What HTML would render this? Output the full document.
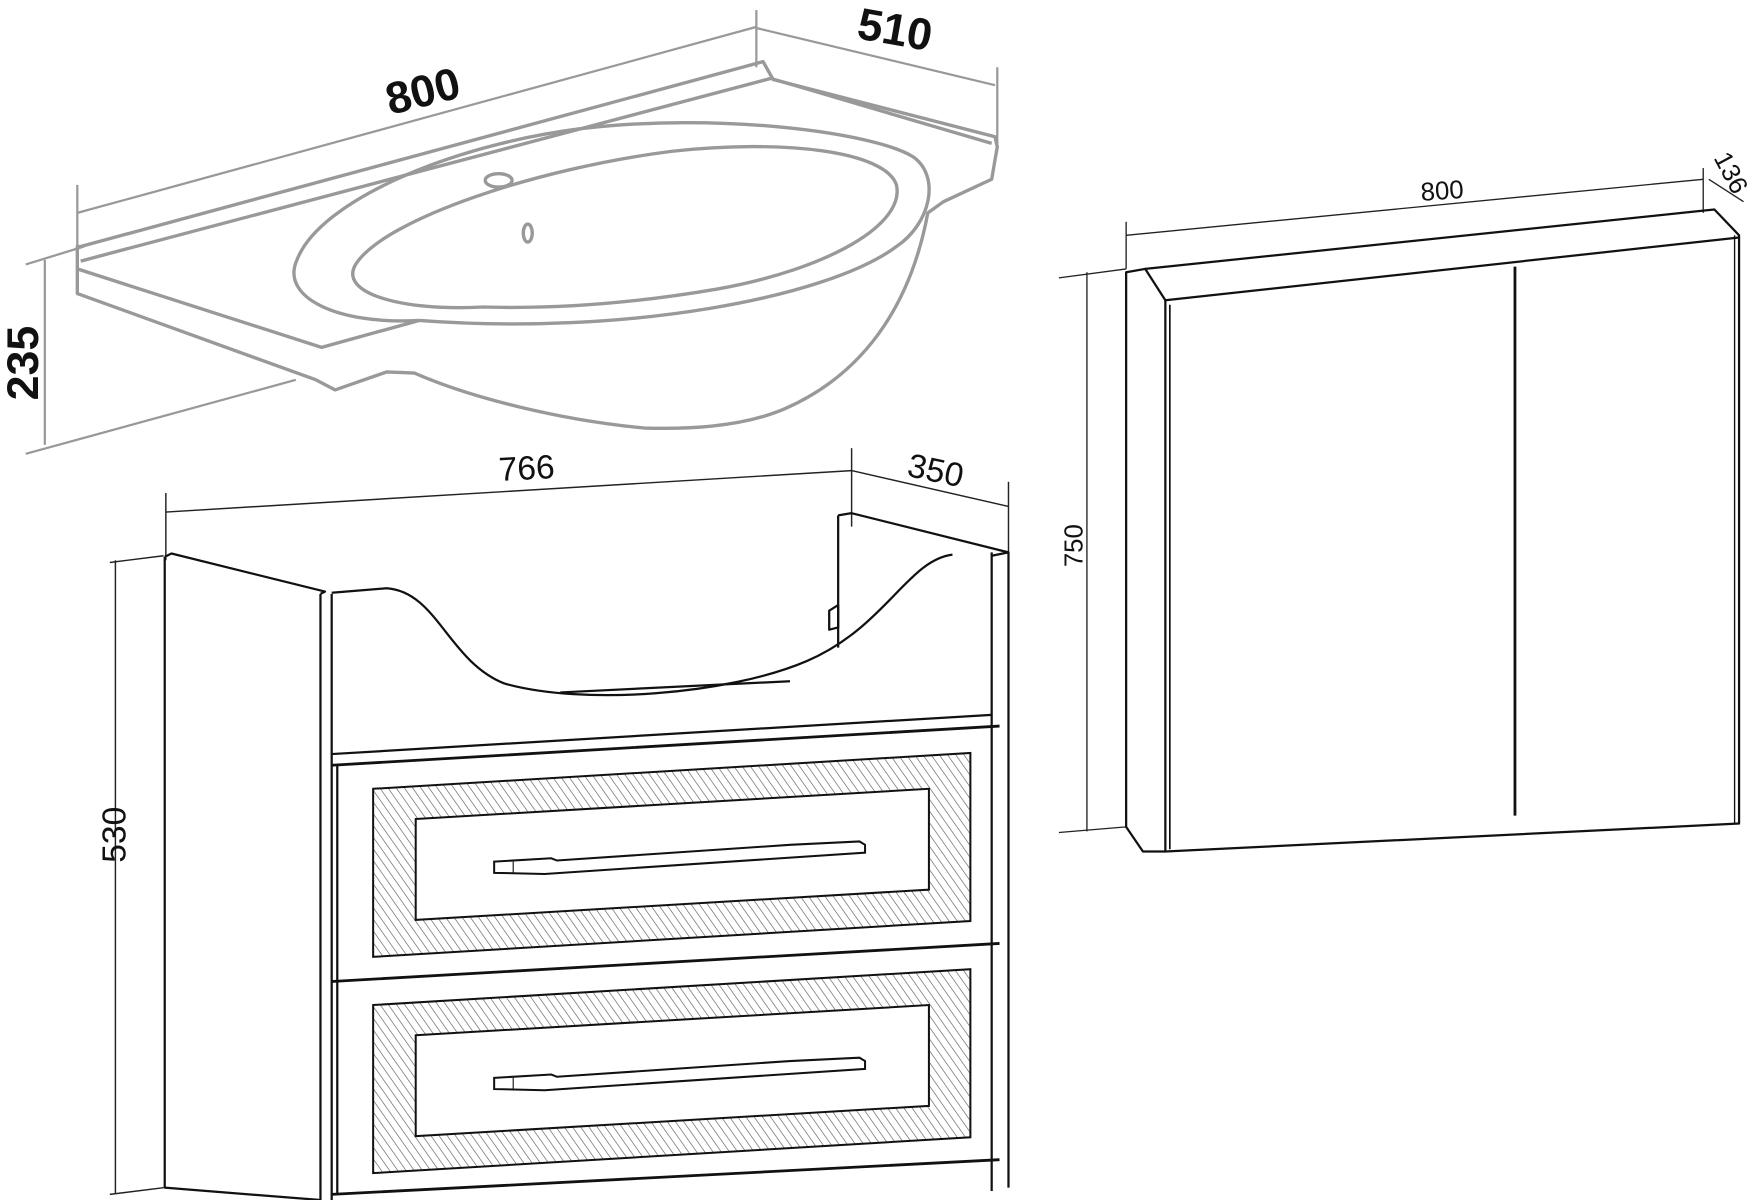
<!DOCTYPE html>
<html><head><meta charset="utf-8"><style>
html,body{margin:0;padding:0;background:#fff;}
svg{display:block;}
</style></head><body>
<svg width="1757" height="1200" viewBox="0 0 1568 1071" preserveAspectRatio="none" xmlns="http://www.w3.org/2000/svg">
<defs>
<pattern id="h" width="6" height="6" patternUnits="userSpaceOnUse" patternTransform="rotate(-35)">
<rect width="6" height="6" fill="#fff"/><line x1="0" y1="0" x2="0" y2="6" stroke="#555" stroke-width="1.1"/>
</pattern>
</defs>
<!-- SINK (gray) -->
<g fill="none" stroke="#999" stroke-width="3" stroke-linejoin="round">
<line x1="69" y1="190" x2="675" y2="24" stroke-width="2"/>
<line x1="675" y1="9" x2="675" y2="60" stroke-width="2"/>
<line x1="69" y1="165" x2="69" y2="220" stroke-width="2"/>
<line x1="675" y1="25" x2="888" y2="76" stroke-width="2"/>
<line x1="890" y1="60" x2="890" y2="131" stroke-width="2"/>
<line x1="40" y1="232" x2="40" y2="397" stroke-width="2"/>
<line x1="23" y1="236" x2="75" y2="220" stroke-width="2"/>
<line x1="23" y1="405" x2="264" y2="339" stroke-width="2"/>
<path d="M72,220 L681,55 L690,71 L888,122 L890,131 L885,160 L842,180 L828,190 C 815,260 780,330 700,365 C 660,382 610,383 575,382 C 500,375 420,355 370,333 L345,332 L299,348 L282,339 L69,262 L69,220 Z"/>
<path d="M72,233 L688,70 M688,70 L885,128"/>
<path d="M69,240 L287,310 L374,286"/>
<path d="M374,286 C 300,290 250,265 265,232 C 285,180 400,130 517,115 C 640,100 780,118 815,140 C 840,158 830,200 800,220 C 740,265 560,300 374,286"/>
<path d="M431,274 C 360,278 300,262 318,235 C 345,195 480,150 600,135 C 700,124 790,135 800,165 C 808,200 740,240 640,258 C 570,270 500,276 431,274 Z"/>
<ellipse cx="445" cy="161" rx="12" ry="6"/>
<ellipse cx="471" cy="208" rx="4" ry="8"/>
</g>
<g font-family="Liberation Sans, sans-serif" font-weight="bold" fill="#111" font-size="40">
<text x="377" y="95" text-anchor="middle" transform="rotate(-14 377 80)">800</text>
<text x="799" y="40" text-anchor="middle" transform="rotate(10 799 25)">510</text>
<text x="0" y="0" text-anchor="middle" transform="translate(34 324) rotate(-90)">235</text>
</g>
<!-- VANITY (black) -->
<g fill="none" stroke="#222" stroke-width="1.3">
<line x1="148" y1="457" x2="760" y2="420"/>
<line x1="148" y1="440" x2="148" y2="500"/>
<line x1="760" y1="400" x2="760" y2="470"/>
<line x1="760" y1="420" x2="900" y2="452"/>
<line x1="900" y1="430" x2="900" y2="495"/>
<line x1="103" y1="500" x2="103" y2="1065"/>
<line x1="98" y1="502" x2="146" y2="496"/>
<line x1="98" y1="1066" x2="146" y2="1060"/>
</g>
<g fill="none" stroke="#111" stroke-width="2" stroke-linejoin="round">
<path d="M147,497 L147,1060 L286,1071"/>
<path d="M147,497 L153,494 L290,528 L286,530"/>
<line x1="286" y1="530" x2="286" y2="1071"/>
<line x1="296" y1="530" x2="296" y2="1071"/>
<line x1="301" y1="683" x2="301" y2="1066"/>
<path d="M296,529 L345,525 C 390,528 400,590 450,610 C 520,630 650,620 720,590 C 790,560 810,500 850,495"/>
<path d="M748,460 L748,578 M748,460 L760,458 L900,493 L885,496"/>
<line x1="885" y1="493" x2="885" y2="1063"/>
<line x1="900" y1="493" x2="900" y2="1060"/>
<line x1="500" y1="618" x2="705" y2="608"/>
<path d="M740,545 L748,540 L748,560 L740,562 Z"/>
<path d="M296,683 L892,648 M296,876 L892,842 M296,1066 L892,1035" stroke-width="2.5"/>
<line x1="296" y1="673" x2="885" y2="638"/>
</g>
<g stroke="#111" stroke-width="1.8">
<g>
<path d="M333,704 L866,672 L866,822 L333,854 Z M371,731 L829,704 L829,794 L371,821 Z" fill="url(#h)" fill-rule="evenodd"/>
<path d="M441,769 L492,766 L497,768 L705,754 L767,751 L772,754 L772,761 L486,780 L441,779 Z" fill="#fff"/>
<line x1="458" y1="769" x2="458" y2="779" stroke-width="1"/>
</g>
<g transform="translate(0,193)">
<path d="M333,704 L866,672 L866,822 L333,854 Z M371,731 L829,704 L829,794 L371,821 Z" fill="url(#h)" fill-rule="evenodd"/>
<path d="M441,769 L492,766 L497,768 L705,754 L767,751 L772,754 L772,761 L486,780 L441,779 Z" fill="#fff"/>
<line x1="458" y1="769" x2="458" y2="779" stroke-width="1"/>
</g>
</g>
<g font-family="Liberation Sans, sans-serif" fill="#111" font-size="30">
<text x="470" y="428" text-anchor="middle" transform="rotate(-3 470 418)">766</text>
<text x="835" y="430" text-anchor="middle" transform="rotate(12 835 420)">350</text>
<text x="0" y="0" text-anchor="middle" transform="translate(112 745) rotate(-90)">530</text>
</g>
<!-- MIRROR CABINET -->
<g fill="none" stroke="#222" stroke-width="1.2">
<line x1="1005" y1="210" x2="1520" y2="160"/>
<line x1="1005" y1="198" x2="1005" y2="240"/>
<line x1="1520" y1="150" x2="1520" y2="190"/>
<line x1="1525" y1="160" x2="1556" y2="180"/>
<line x1="970" y1="243" x2="970" y2="742"/>
<line x1="945" y1="248" x2="1005" y2="240"/>
<line x1="945" y1="743" x2="1005" y2="738"/>
</g>
<g fill="none" stroke="#111" stroke-width="2" stroke-linejoin="round">
<path d="M1005,243 L1022,240 L1040,268 L1040,760 L1020,760 L1005,738 Z"/>
<line x1="1022" y1="240" x2="1520" y2="188"/>
<path d="M1520,188 L1530,187 L1552,210 L1552,735 L1040,760"/>
<line x1="1040" y1="268" x2="1552" y2="212"/>
<line x1="1044" y1="272" x2="1044" y2="758" stroke-width="1.5"/>
<line x1="1352" y1="238" x2="1352" y2="728" stroke-width="2.5"/>
<line x1="1548" y1="210" x2="1548" y2="735" stroke-width="1.2"/>
</g>
<g font-family="Liberation Sans, sans-serif" fill="#111" font-size="23">
<text x="1287" y="178" text-anchor="middle" transform="rotate(-4 1287 170)">800</text>
<text x="1545" y="162" text-anchor="middle" transform="rotate(62 1545 154)">136</text>
<text x="0" y="0" text-anchor="middle" transform="translate(966 487) rotate(-90)">750</text>
</g>
</svg>
</body></html>
